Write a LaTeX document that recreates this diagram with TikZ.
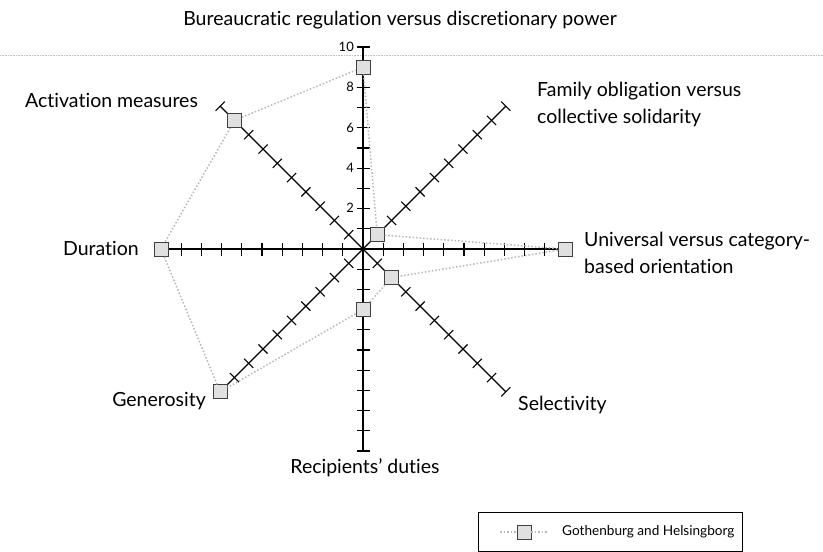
\documentclass[tikz,border=0pt]{standalone}
\usepackage{fontspec}
\setmainfont{Lato}[Ligatures=NoCommon]
\usetikzlibrary{calc}
\begin{document}
\begin{tikzpicture}[x=1pt,y=-1pt,
  axisline/.style={line width=1.3pt, black},
  tickmark/.style={line width=1.1pt, black},
  datalink/.style={draw=black!28, line width=1.5pt, dotted},
  marker/.style={draw=black!75, fill=black!12, line width=0.9pt,
    minimum size=14pt, inner sep=0pt, shape=rectangle},
  axlabel/.style={font=\fontsize{19.5}{27}\selectfont, inner sep=0pt},
  numlabel/.style={font=\fontsize{13}{15}\selectfont, inner sep=0pt, anchor=east},
]
\useasboundingbox (0,0) rectangle (823,552);
\fill[white] (0,0) rectangle (823,552);
\draw[black!25, line width=0.6pt, densely dotted] (0,55) -- (823,55);

\coordinate (O) at (363,249);

% eight axes, ten units each, with crossing ticks
\begin{scope}[shift={(O)}, x=1pt, y=1pt]
  \foreach \a in {0,45,...,315} {
    \draw[axisline] (0,0) -- ({\a}:202);
    \foreach \k in {1,...,10} {
      \draw[tickmark] ($({\a}:{\k*20.2})+({\a+90}:6.5)$) -- ($({\a}:{\k*20.2})+({\a-90}:6.5)$);
    }
  }
  % scores of each dimension
  \node[marker] (mN)  at (90:{9*20.2})   {};
  \node[marker] (mNE) at (45:{1*20.2})   {};
  \node[marker] (mE)  at (0:{10*20.2})   {};
  \node[marker] (mSE) at (-45:{2*20.2})  {};
  \node[marker] (mS)  at (-90:{3*20.2})  {};
  \node[marker] (mSW) at (-135:{10*20.2}) {};
  \node[marker] (mW)  at (180:{10*20.2}) {};
  \node[marker] (mNW) at (135:{9*20.2})  {};
\end{scope}

\draw[datalink] (mN) -- (mNE);
\draw[datalink] (mNE) -- (mE);
\draw[datalink] (mE) -- (mSE);
\draw[datalink] (mSE) -- (mS);
\draw[datalink] (mS) -- (mSW);
\draw[datalink] (mSW) -- (mW);
\draw[datalink] (mW) -- (mNW);
\draw[datalink] (mNW) -- (mN);

% scale numbers on the vertical axis
\node[numlabel] (n10) at (354,47)  {10};
\node[numlabel] (n8)  at (354,87)  {8};
\node[numlabel] (n6)  at (354,128) {6};
\node[numlabel] (n4)  at (354,168) {4};
\node[numlabel] (n2)  at (354,208) {2};

% dimension labels
\node[axlabel] (tN)  at (400,20) {Bureaucratic regulation versus discretionary power};
\node[axlabel, anchor=west] (tNW) at (25,100) {Activation measures};
\node[axlabel, anchor=west, align=left] (tNE) at (537,104) {Family obligation versus\\collective solidarity};
\node[axlabel, anchor=east] (tW) at (139,248) {Duration};
\node[axlabel, anchor=west, align=left] (tE) at (584,253) {Universal versus category-\\based orientation};
\node[axlabel, anchor=east] (tSW) at (206,401) {Generosity};
\node[axlabel, anchor=west] (tSE) at (518,405) {Selectivity};
\node[axlabel] (tS) at (365,468) {Recipients’ duties};

% legend
\draw[line width=0.9pt] (478,512) rectangle (742,551);
\coordinate (lgA) at (500,532);
\coordinate (lgB) at (548,532);
\node[marker] (lgM) at (524,532) {};
\draw[datalink] (lgA) -- (lgM);
\draw[datalink] (lgM) -- (lgB);
\node[axlabel, anchor=west, font=\fontsize{13.6}{17}\selectfont] (lgT) at (562,532) {Gothenburg and Helsingborg};
\end{tikzpicture}
\end{document}
